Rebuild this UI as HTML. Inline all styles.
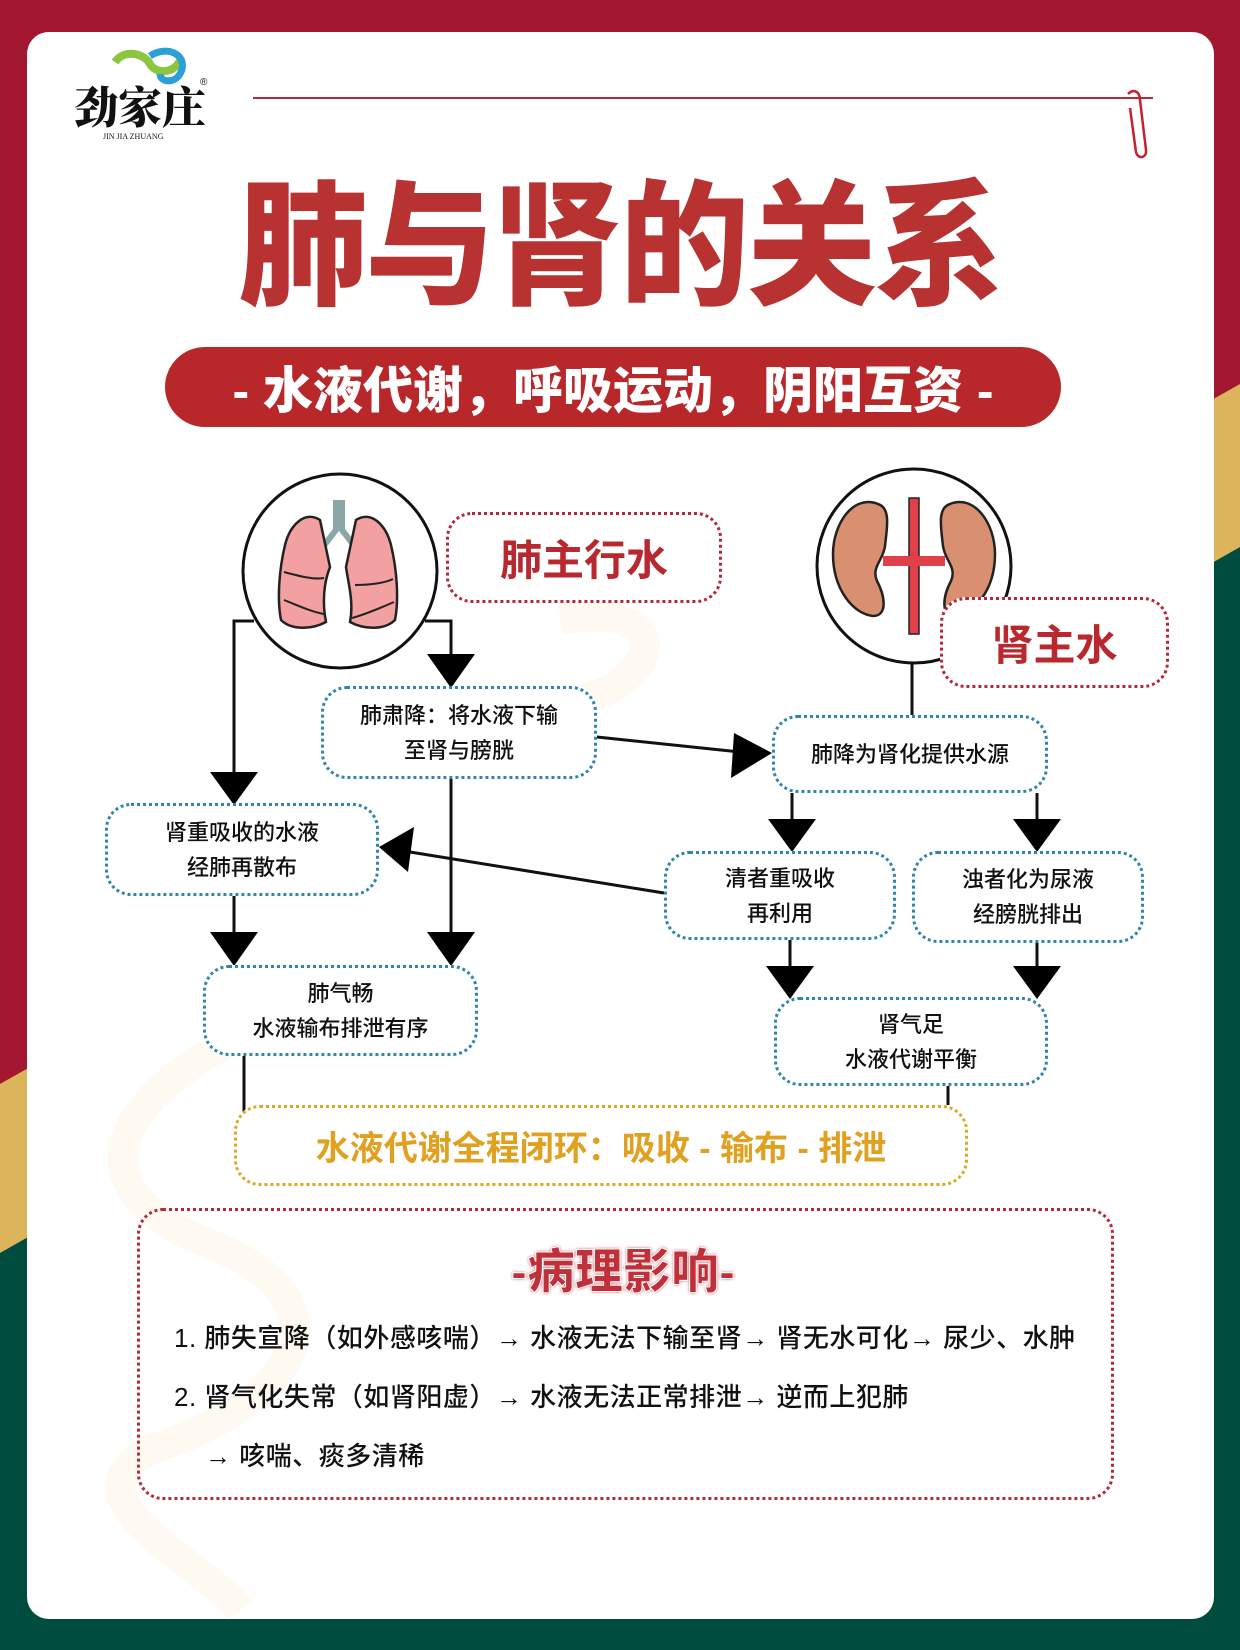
<!DOCTYPE html>
<html><head><meta charset="utf-8"><style>
*{margin:0;padding:0;box-sizing:border-box}
body{width:1240px;height:1650px;position:relative;overflow:hidden;font-family:"Liberation Sans","Noto Sans CJK SC",sans-serif;background:#a31830}
.abs{position:absolute}
.card{left:27px;top:32px;width:1187px;height:1587px;background:#fff;border-radius:22px}
.box{position:absolute;border:3px dotted #2e86ab;border-radius:26px;display:flex;align-items:center;justify-content:center;text-align:center;font-size:22px;line-height:35px;color:#111;font-weight:500;background:#fff}
.rbox{position:absolute;border:3px dotted #b3283a;border-radius:26px;display:flex;align-items:center;justify-content:center;color:#b8282e;font-weight:700;background:#fff}
.path{font-size:26px;color:#111;font-weight:500;position:absolute;white-space:nowrap;letter-spacing:0.5px}
</style></head><body>
<svg class="abs" style="left:0;top:0" width="1240" height="1650">
<polygon points="0,1084 1240,384 1240,1650 0,1650" fill="#dcb45c"/>
<polygon points="0,1253 1240,547 1240,1650 0,1650" fill="#004d40"/>
</svg>
<div class="abs card"></div>
<svg class="abs" style="left:0;top:0" width="1240" height="1650">
<path d="M560,620 C680,600 660,680 580,700 M300,1010 C120,1080 60,1180 200,1240 C360,1300 300,1400 150,1450 C60,1500 200,1560 240,1610" stroke="#fdf6ea" stroke-width="30" fill="none" opacity="0.6"/>
<!-- logo -->
<path d="M115,62 c10,-14 30,-8 35,2 c5,10 25,10 30,-4" stroke="#8cc63f" stroke-width="8" fill="none"/>
<path d="M150,56 c18,-12 40,0 30,18 c-6,10 -20,8 -20,0" stroke="#2a9fd8" stroke-width="7" fill="none"/>
<text x="74" y="123" font-size="44" font-weight="900" font-family="Noto Serif CJK SC,serif" fill="#111">劲家庄</text>
<text x="200" y="85" font-size="10" fill="#111">®</text>
<text x="103" y="139" font-size="8" fill="#111" font-family="Liberation Serif">JIN JIA ZHUANG</text>
<line x1="253" y1="98" x2="1153" y2="98" stroke="#b3283a" stroke-width="2"/>
<path d="M1128,94 c6,-6 12,-2 12,6 l6,50 c1,8 -8,10 -10,2 l-6,-44" stroke="#c8202a" stroke-width="2.5" fill="none"/>
<!-- connectors -->
<g stroke="#111" stroke-width="3" fill="none">
<polyline points="254,621 234,621 234,778"/>
<polyline points="425,621 451,621 451,660"/>
<line x1="451" y1="779" x2="451" y2="938"/>
<line x1="234" y1="896" x2="234" y2="938"/>
<line x1="597" y1="737" x2="740" y2="752"/>
<line x1="664" y1="893" x2="410" y2="852"/>
<line x1="912" y1="663" x2="912" y2="715"/>
<line x1="792" y1="793" x2="792" y2="825"/>
<line x1="1037" y1="793" x2="1037" y2="825"/>
<line x1="790" y1="940" x2="790" y2="972"/>
<line x1="1037" y1="943" x2="1037" y2="972"/>
<line x1="244" y1="1056" x2="244" y2="1114"/>
<line x1="948" y1="1086" x2="948" y2="1105"/>
</g>
<g fill="#000">
<polygon points="210,772 258,772 234,805"/>
<polygon points="427,654 475,654 451,688"/>
<polygon points="427,932 475,932 451,966"/>
<polygon points="210,932 258,932 234,966"/>
<polygon points="772,753 734,733 731,778"/>
<polygon points="379,847 414,827 408,872"/>
<polygon points="768,819 816,819 792,852"/>
<polygon points="1013,819 1061,819 1037,852"/>
<polygon points="766,966 814,966 790,999"/>
<polygon points="1013,966 1061,966 1037,999"/>
</g>
<!-- lung circle -->
<circle cx="340" cy="571" r="97" fill="#fff" stroke="#111" stroke-width="3"/>
<path d="M336,500 v30 l-14,18 M342,500 v30 l14,18" stroke="#8aa6a6" stroke-width="6" fill="none"/>
<path d="M320,520 c-15,-10 -30,5 -35,25 c-6,25 -8,55 -4,75 c10,10 30,10 45,2 c-4,-20 -2,-40 4,-55 z" fill="#f2a0a0" stroke="#222" stroke-width="2.5"/>
<path d="M356,520 c15,-10 30,5 35,25 c6,25 8,55 4,75 c-10,10 -30,10 -45,2 c4,-20 -2,-40 -4,-55 z" fill="#f2a0a0" stroke="#222" stroke-width="2.5"/>
<path d="M284,572 c15,4 30,8 40,6 M284,600 c15,6 28,12 40,14 M355,585 c15,0 30,-2 38,-6 M352,618 c15,-4 28,-10 42,-16" stroke="#222" stroke-width="2" fill="none"/>
<!-- kidney circle -->
<circle cx="914" cy="566" r="97" fill="#fff" stroke="#111" stroke-width="3"/>
<path d="M878,504 c-25,-10 -45,20 -45,50 c0,35 20,60 40,62 c15,0 12,-20 4,-35 c-6,-14 6,-20 8,-35 c2,-18 6,-38 -7,-42 z" fill="#d99070" stroke="#222" stroke-width="2.5"/>
<path d="M950,504 c25,-10 45,20 45,50 c0,35 -20,60 -40,62 c-15,0 -12,-20 -4,-35 c6,-14 -6,-20 -8,-35 c-2,-18 -6,-38 7,-42 z" fill="#d99070" stroke="#222" stroke-width="2.5"/>
<rect x="909" y="498" width="10" height="136" fill="#e0404a" stroke="#222" stroke-width="1.5"/>
<rect x="883" y="556" width="62" height="10" fill="#e0404a"/>
</svg>

<div class="abs" style="left:0;top:172px;width:1240px;text-align:center;font-size:136px;line-height:150px;font-weight:900;color:#b83232;letter-spacing:-2px;transform:scaleX(0.95)">肺与肾的关系</div>
<div class="abs" style="left:165px;top:347px;width:896px;height:80px;background:#b8282a;border-radius:40px;color:#fff;font-size:50px;font-weight:900;display:flex;align-items:center;justify-content:center;white-space:nowrap">- 水液代谢，呼吸运动，阴阳互资 -</div>

<div class="rbox" style="left:446px;top:512px;width:276px;height:91px;font-size:42px">肺主行水</div>
<div class="rbox" style="left:940px;top:597px;width:229px;height:91px;font-size:42px">肾主水</div>

<div class="box" style="left:321px;top:686px;width:276px;height:93px">肺肃降：将水液下输<br>至肾与膀胱</div>
<div class="box" style="left:772px;top:715px;width:276px;height:78px">肺降为肾化提供水源</div>
<div class="box" style="left:105px;top:803px;width:274px;height:93px">肾重吸收的水液<br>经肺再散布</div>
<div class="box" style="left:664px;top:851px;width:232px;height:89px">清者重吸收<br>再利用</div>
<div class="box" style="left:912px;top:851px;width:232px;height:92px">浊者化为尿液<br>经膀胱排出</div>
<div class="box" style="left:203px;top:965px;width:275px;height:91px">肺气畅<br>水液输布排泄有序</div>
<div class="box" style="left:774px;top:997px;width:274px;height:89px">肾气足<br>水液代谢平衡</div>

<div class="abs" style="left:234px;top:1105px;width:734px;height:81px;border:3px dotted #e0a820;border-radius:26px;display:flex;align-items:center;justify-content:center;color:#e0a020;font-size:34px;font-weight:700;background:#fff">水液代谢全程闭环：吸收 - 输布 - 排泄</div>

<div class="abs" style="left:137px;top:1208px;width:977px;height:292px;border:3px dotted #b3283a;border-radius:26px"></div>
<div class="abs" style="left:0;top:1232px;width:1246px;text-align:center;font-size:48px;font-weight:900;color:#c0303a;-webkit-text-stroke:1px #fff;text-shadow:0 0 3px #c0303a">-病理影响-</div>
<div class="path" style="left:174px;top:1318px">1. 肺失宣降（如外感咳喘）→ 水液无法下输至肾→ 肾无水可化→ 尿少、水肿</div>
<div class="path" style="left:174px;top:1377px">2. 肾气化失常（如肾阳虚）→ 水液无法正常排泄→ 逆而上犯肺</div>
<div class="path" style="left:205px;top:1436px">→ 咳喘、痰多清稀</div>
</body></html>
